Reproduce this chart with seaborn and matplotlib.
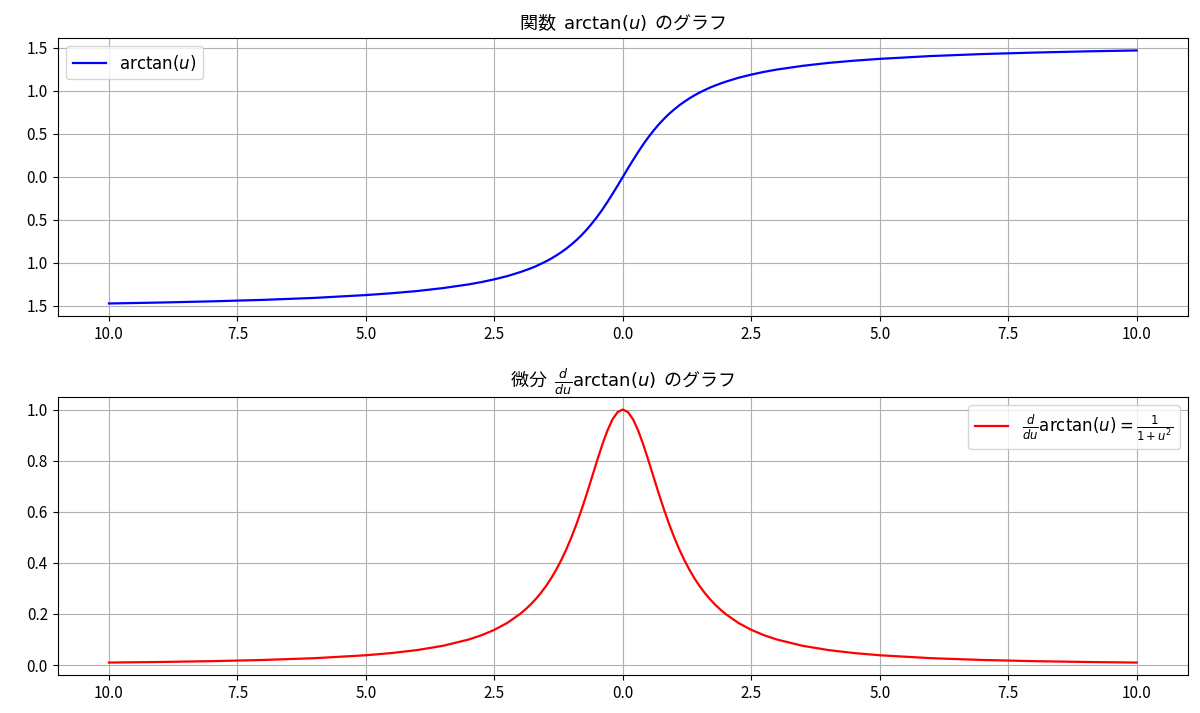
import matplotlib
matplotlib.use("Agg")
import matplotlib.pyplot as plt
import seaborn as sns
import pandas as pd
from matplotlib.ticker import FuncFormatter

u_values = [-10, -9, -8, -7, -6, -5, -4.5, -4, -3.5, -3, -2.75, -2.5, -2.25,
            -2.0, -1.9, -1.8, -1.7, -1.6, -1.5, -1.4, -1.3, -1.2, -1.1, -1.0,
            -0.9, -0.8, -0.7, -0.6, -0.5, -0.4, -0.3, -0.2, -0.1, 0.0,
            0.1, 0.2, 0.3, 0.4, 0.5, 0.6, 0.7, 0.8, 0.9, 1.0,
            1.1, 1.2, 1.3, 1.4, 1.5, 1.6, 1.7, 1.8, 1.9, 2.0,
            2.25, 2.5, 2.75, 3, 3.5, 4, 4.5, 5, 6, 7, 8, 9, 10]

arctan_values = [-1.471, -1.460, -1.446, -1.429, -1.406, -1.373, -1.352, -1.326, -1.292,
                 -1.249, -1.222, -1.190, -1.153,
                 -1.107, -1.086, -1.064, -1.040, -1.012, -0.983, -0.951, -0.915, -0.876,
                 -0.833, -0.785,
                 -0.733, -0.675, -0.611, -0.540, -0.464, -0.381, -0.291, -0.197, -0.100, 0.000,
                 0.100, 0.197, 0.291, 0.381, 0.464, 0.540, 0.611, 0.675, 0.733, 0.785,
                 0.833, 0.876, 0.915, 0.951, 0.983, 1.012, 1.040, 1.064, 1.086, 1.107,
                 1.153, 1.190, 1.222, 1.249, 1.292, 1.326, 1.352, 1.373, 1.406, 1.429,
                 1.446, 1.460, 1.471]

deriv_values = [0.0099, 0.0122, 0.0154, 0.0200, 0.0270, 0.0385, 0.0471, 0.0588, 0.0755,
                0.1000, 0.1168, 0.1379, 0.1649,
                0.2000, 0.2169, 0.2358, 0.2571, 0.2809, 0.3077, 0.3378, 0.3717, 0.4098,
                0.4525, 0.5000,
                0.5525, 0.6098, 0.6711, 0.7353, 0.8000, 0.8621, 0.9174, 0.9615, 0.9901, 1.0000,
                0.9901, 0.9615, 0.9174, 0.8621, 0.8000, 0.7353, 0.6711, 0.6098, 0.5525, 0.5000,
                0.4525, 0.4098, 0.3717, 0.3378, 0.3077, 0.2809, 0.2571, 0.2358, 0.2169, 0.2000,
                0.1649, 0.1379, 0.1168, 0.1000, 0.0755, 0.0588, 0.0471, 0.0385, 0.0270, 0.0200,
                0.0154, 0.0122, 0.0099]

plt.rcParams['font.family'] = ['Noto Sans CJK JP', 'DejaVu Sans']
plt.rcParams['mathtext.fontset'] = 'dejavusans'

df = pd.DataFrame({"u": u_values, "arctan": arctan_values, "deriv": deriv_values})

fig, axes = plt.subplots(2, 1, figsize=(12, 7.13), dpi=100)
fig.subplots_adjust(left=0.048, right=0.99, top=0.947, bottom=0.053, hspace=0.29)

fmt = FuncFormatter(lambda v, p: f"{abs(v):.1f}")

ax = axes[0]
sns.lineplot(data=df, x="u", y="arctan", ax=ax, color="blue", linewidth=1.6,
             label=r"$\arctan(u)$", sort=False)
ax.set_title(r"関数  $\arctan(u)$  のグラフ", fontsize=13)
ax.legend(loc="upper left", fontsize=12)

ax = axes[1]
sns.lineplot(data=df, x="u", y="deriv", ax=ax, color="red", linewidth=1.6,
             label=r"$\frac{d}{du}\arctan(u) = \frac{1}{1+u^2}$", sort=False)
ax.set_title(r"微分  $\frac{d}{du}\arctan(u)$  のグラフ", fontsize=13)
ax.legend(loc="upper right", fontsize=12)

for a in axes:
    a.set_xlabel("")
    a.set_ylabel("")
    a.grid(True)
    a.xaxis.set_major_formatter(fmt)
    a.yaxis.set_major_formatter(fmt)
    a.tick_params(labelsize=11)

fig.savefig("out.png", dpi=100)
